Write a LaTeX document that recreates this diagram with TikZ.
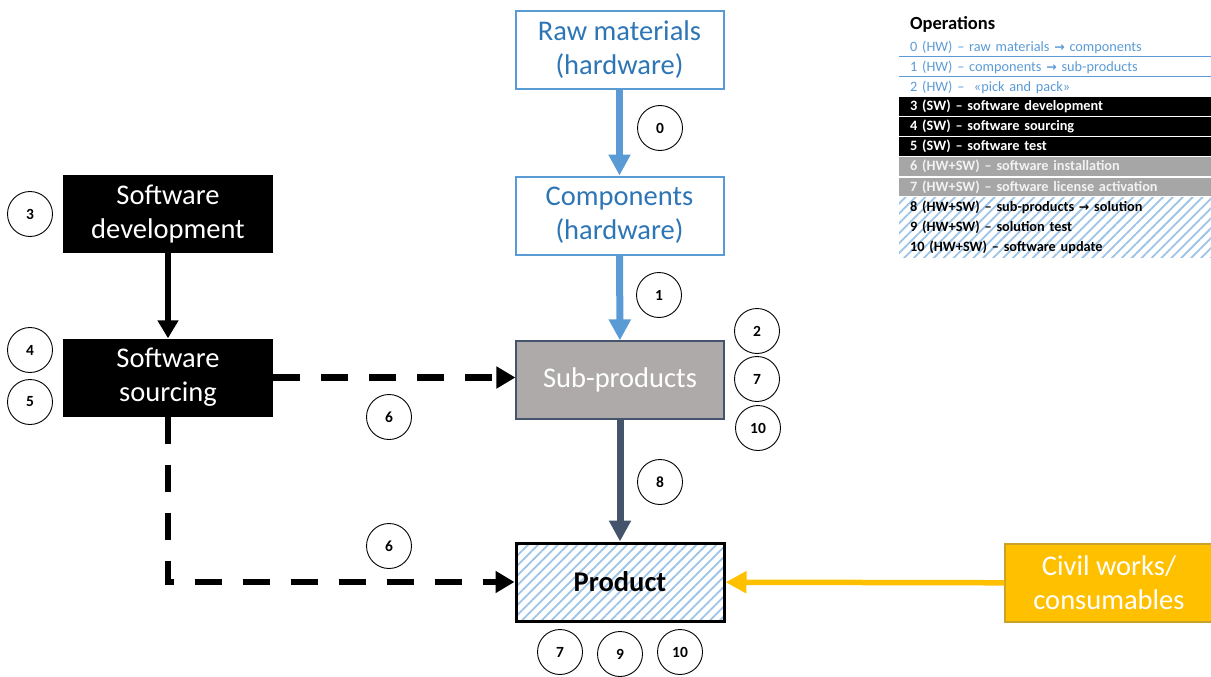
\documentclass[tikz,border=0pt]{standalone}
\usepackage{fontspec}
\setmainfont{Carlito}
\newfontfamily\arrowfont{DejaVu Sans}
\usetikzlibrary{arrows.meta,patterns.meta}
\definecolor{hwblue}{HTML}{5B9BD5}
\definecolor{hwtext}{HTML}{2E75B6}
\definecolor{subgray}{HTML}{AEAAAA}
\definecolor{slate}{HTML}{44546A}
\definecolor{amber}{HTML}{FFC000}
\definecolor{amberdark}{HTML}{C9A227}
\definecolor{opgray}{HTML}{A6A6A6}
\definecolor{hatchblue}{HTML}{9DC3E6}
\newcommand{\ra}{{\arrowfont\bfseries\fontsize{12.5}{12}\selectfont →}}

\begin{document}
\begin{tikzpicture}[x=1pt,y=-1pt,
  box/.style={minimum width=208pt,minimum height=78pt,align=center,inner sep=0pt,
    font=\fontsize{28.5}{34}\selectfont},
  hw box/.style={box,draw=hwblue,line width=2pt,text=hwtext},
  sw box/.style={box,fill=black,text=white,minimum width=210pt},
  hatched/.style={pattern={Lines[angle=45,distance=7pt,line width=1.8pt]},pattern color=hatchblue},
  opnum/.style={circle,draw,line width=0.9pt,minimum size=45pt,inner sep=0pt,
    font=\fontsize{15.5}{15}\selectfont\bfseries},
  flow/.style={line width=#1,-{Triangle[length=21pt,width=21pt]}},
  dash flow/.style={line width=6.5pt,dash pattern=on 27pt off 21pt,-{Triangle[length=19pt,width=21pt]}},
  op row/.style={anchor=west,text width=290pt,align=left,inner xsep=11pt,inner ysep=0pt,
    minimum height=18.5pt,font=\fontsize{14.3}{16}\selectfont},
  hw row/.style={op row,text=hwblue},
  sw row/.style={op row,fill=black,text=white,font=\fontsize{14.3}{16}\selectfont\bfseries},
  mix row/.style={op row,fill=opgray,text=white!95!black,font=\fontsize{14.3}{16}\selectfont\bfseries},
  sol row/.style={op row,font=\fontsize{14.3}{16}\selectfont\bfseries}]
\useasboundingbox (0,0) rectangle (1211,677);

% hardware chain
\node[hw box] (raw) at (619.5,50) {Raw materials\\(hardware)};
\node[hw box] (comp) at (619.5,215.5) {Components\\(hardware)};
\node[box,fill=subgray,draw=slate,line width=1.2pt,text=white] (sub) at (620,380) {Sub-products};
\node[box,hatched,draw=black,line width=3pt,font=\fontsize{28.5}{34}\selectfont\bfseries] (prod) at (620,582) {Product};
\node[box,fill=amber,draw=amberdark,line width=1.2pt,text=white] (civil) at (1109,583) {Civil works/\\consumables};

% software chain
\node[sw box] (dev) at (168,214) {Software\\development};
\node[sw box] (src) at (168,377.5) {Software\\sourcing};

\draw[flow=7pt,hwblue] (raw) -- (comp);
\draw[flow=7pt,hwblue] (comp) -- (sub);
\draw[flow=7pt,slate] (sub) -- (prod);
\draw[flow=5.5pt,amber] (civil) -- (prod);
\draw[flow=6pt,-{Triangle[length=18pt,width=20pt]}] (dev) -- (src);
\draw[dash flow] (src.east) -- (src.east -| sub.west);
\draw[dash flow] (src.south) |- (prod.west);

% operation numbers
\node[opnum] (n0) at (660,128) {0};
\node[opnum] (n1) at (659,295) {1};
\node[opnum] (n2) at (757,331) {2};
\node[opnum] (n7a) at (757,379) {7};
\node[opnum] (n10a) at (758,428) {10};
\node[opnum] (n8) at (660,482) {8};
\node[opnum] (n7b) at (560,652) {7};
\node[opnum] (n9) at (620,654) {9};
\node[opnum] (n10b) at (680,652) {10};
\node[opnum] (n3) at (30,214) {3};
\node[opnum] (n4) at (30,350) {4};
\node[opnum] (n5) at (30,402) {5};
\node[opnum] (n6a) at (389,417) {6};
\node[opnum] (n6b) at (389,546) {6};

% legend
\node[anchor=west,inner sep=0pt,font=\fontsize{18.5}{18}\selectfont\bfseries] (ops) at (910,24) {Operations};
\path[hatched] (899,197) rectangle (1212,257);
\node[hw row] (l0) at (899,47) {0 (HW) – raw materials \ra{} components};
\node[hw row] (l1) at (899,67) {1 (HW) – components \ra{} sub-products};
\node[hw row] (l2) at (899,87) {2 (HW) –\ \ «pick and pack»};
\node[sw row] (l3) at (899,106.5) {3 (SW) – software development};
\node[sw row] (l4) at (899,126.5) {4 (SW) – software sourcing};
\node[sw row] (l5) at (899,146.5) {5 (SW) – software test};
\node[mix row] (l6) at (899,166.5) {6 (HW+SW) – software installation};
\node[mix row] (l7) at (899,187) {7 (HW+SW) – software license activation};
\node[sol row] (l8) at (899,207) {8 (HW+SW) – sub-products \ra{} solution};
\node[sol row] (l9) at (899,227) {9 (HW+SW) – solution test};
\node[sol row] (l10) at (899,247) {10 (HW+SW) – software update};
\draw[hwblue,line width=1.5pt] (l0.south west) -- (l0.south east);
\draw[hwblue,line width=1.5pt] (l1.south west) -- (l1.south east);
\end{tikzpicture}
\end{document}
